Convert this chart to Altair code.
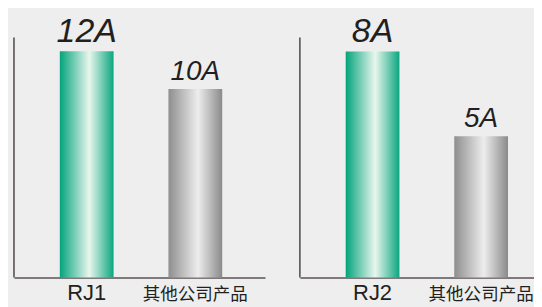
import altair as alt
import pandas as pd

# --- data ---
left_categories = ["RJ1", "其他公司产品"]
left_values = [12, 10]
left_labels = ["12A", "10A"]

right_categories = ["RJ2", "其他公司产品"]
right_values = [8, 5]
right_labels = ["8A", "5A"]

groups = ["ours", "other"]

# scale extents (y axis line top and plot top, in data units)
left_axis_top, left_domain_max = 12.74, 14.27
right_axis_top, right_domain_max = 8.49, 9.515

FONT = "Liberation Sans, Arial, Noto Sans CJK SC"
AXIS_COLOR = "#5a5254"
TEXT_COLOR = "#231f20"

green = alt.LinearGradient(
    gradient="linear", x1=0, x2=1, y1=0, y2=0,
    stops=[
        alt.GradientStop(offset=0, color="#03a47b"),
        alt.GradientStop(offset=0.55, color="#e9f6ee"),
        alt.GradientStop(offset=1, color="#0aa67f"),
    ],
)
gray = alt.LinearGradient(
    gradient="linear", x1=0, x2=1, y1=0, y2=0,
    stops=[
        alt.GradientStop(offset=0, color="#8e8e8e"),
        alt.GradientStop(offset=0.55, color="#ededed"),
        alt.GradientStop(offset=1, color="#8a8a8a"),
    ],
)


def panel(categories, values, labels, axis_top, domain_max, width, pad_outer, align):
    df = pd.DataFrame({"cat": categories, "val": values, "lab": labels, "group": groups})
    base = alt.Chart(df)
    x = alt.X(
        "cat:N",
        sort=categories,
        title=None,
        scale=alt.Scale(paddingInner=0.505, paddingOuter=pad_outer, align=align),
        axis=alt.Axis(
            labelAngle=0,
            ticks=False,
            domainColor=AXIS_COLOR,
            domainWidth=1.6,
            labelColor=TEXT_COLOR,
            labelFont=FONT,
            labelFontSize={"condition": {"test": "datum.value == '其他公司产品'", "value": 17.6}, "value": 22},
            labelPadding=22,
            labelBaseline="alphabetic",
        ),
    )
    yscale = alt.Scale(domain=[0, domain_max], nice=False)
    y = alt.Y("val:Q", axis=None, scale=yscale)

    ours = base.transform_filter(alt.datum.group == "ours").mark_bar(color=green).encode(x=x, y=y)
    other = base.transform_filter(alt.datum.group == "other").mark_bar(color=gray).encode(x=x, y=y)
    text = base.mark_text(
        font=FONT, fontStyle="italic", baseline="alphabetic", dy=-9, color=TEXT_COLOR
    ).encode(
        x=x,
        y=y,
        text="lab:N",
        size=alt.condition(alt.datum.group == "ours", alt.value(34), alt.value(28)),
    )
    yaxis = alt.Chart(pd.DataFrame({"top": [axis_top]})).mark_rule(
        color=AXIS_COLOR, strokeWidth=1.6
    ).encode(
        x=alt.value(0),
        y=alt.Y("top:Q", scale=yscale, axis=None),
        y2=alt.datum(0),
    )
    return alt.layer(ours, other, text, yaxis).properties(width=width, height=270)


left = panel(left_categories, left_values, left_labels, left_axis_top, left_domain_max, 252, 0.408, 0.517)
right = panel(right_categories, right_values, right_labels, right_axis_top, right_domain_max, 235, 0.3306, 0.638)

chart = (
    alt.hconcat(left, right, spacing=34)
    .resolve_scale(y="independent", x="independent")
    .properties(padding={"left": 5, "top": 0, "right": 0, "bottom": 4})
    .configure(background="#eeeeee")
    .configure_view(stroke=None)
)

chart.save("out.html", embed_options={"renderer": "svg", "actions": False})
